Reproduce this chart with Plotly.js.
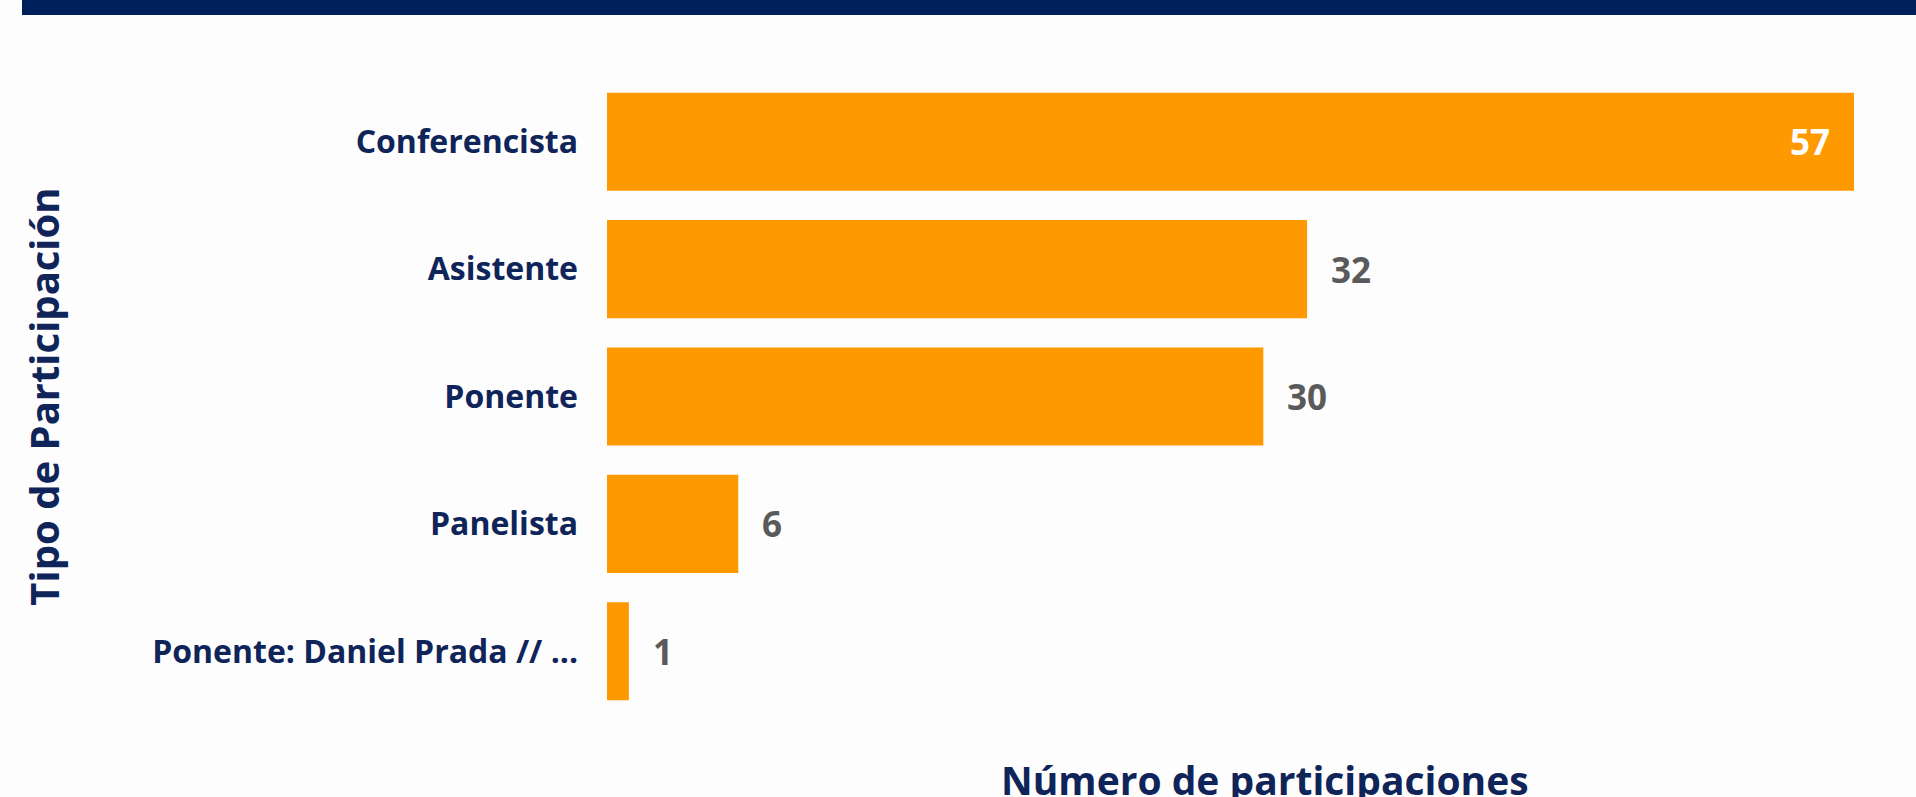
<!DOCTYPE html>
<html>
<head>
<meta charset="utf-8">
<script src="https://cdn.plot.ly/plotly-3.0.1.min.js"></script>
<style>
  html, body { margin: 0; padding: 0; background: #fdfdfd; }
  #chart { width: 1916px; height: 797px; }
</style>
</head>
<body>
<div id="chart"></div>
<script>
const categorias = ['Conferencista', 'Asistente', 'Ponente', 'Panelista', 'Ponente: Daniel Prada // ...'];
const participaciones = [57, 32, 30, 6, 1];
const tituloX = 'Número de participaciones';
const tituloY = 'Tipo de Participación';

const navy = '#0f2559';
const orange = '#ff9900';
const maxVal = Math.max(...participaciones);

const valueLabels = categorias.map((c, i) => {
  const v = participaciones[i];
  const inside = v > 0.8 * maxVal;
  return {
    x: v, y: c, xref: 'x', yref: 'y',
    text: String(v),
    showarrow: false,
    xanchor: inside ? 'right' : 'left',
    xshift: inside ? -22 : 22,
    font: { family: 'Open Sans', size: 35, weight: 700, color: inside ? '#ffffff' : '#5a5a5a' }
  };
});

const data = [{
  type: 'bar',
  orientation: 'h',
  x: participaciones,
  y: categorias,
  marker: { color: orange },
  hoverinfo: 'x+y'
}];

const layout = {
  width: 1916, height: 797,
  paper_bgcolor: '#fdfdfd',
  plot_bgcolor: '#fdfdfd',
  margin: { l: 607, r: 62, t: 78, b: 82 },
  bargap: 0.23,
  showlegend: false,
  xaxis: {
    range: [0, 57],
    showgrid: false, zeroline: false, showline: false,
    showticklabels: false, ticks: '', fixedrange: true
  },
  yaxis: {
    type: 'category',
    autorange: 'reversed',
    showgrid: false, zeroline: false, showline: false,
    ticks: '',
    ticklabelstandoff: 28,
    tickfont: { family: 'Open Sans', size: 32, weight: 700, color: navy },
    title: { text: tituloY, standoff: 80, font: { family: 'Open Sans', size: 40, weight: 700, color: navy } },
    automargin: false
  },
  shapes: [{
    type: 'rect', xref: 'paper', yref: 'paper',
    x0: (22 - 607) / 1247, x1: (1916 - 607) / 1247,
    y0: (715 - 15) / 637, y1: (715 + 10) / 637,
    fillcolor: '#00205b', line: { width: 0 }, layer: 'above'
  }],
  annotations: valueLabels.concat([{
    xref: 'paper', yref: 'paper',
    x: (1265 - 607) / 1247, y: 0,
    xanchor: 'center', yanchor: 'top', yshift: -36,
    text: tituloX, showarrow: false,
    font: { family: 'Open Sans', size: 39, weight: 700, color: navy }
  }])
};

Plotly.newPlot('chart', data, layout, { displayModeBar: false });
</script>
</body>
</html>
